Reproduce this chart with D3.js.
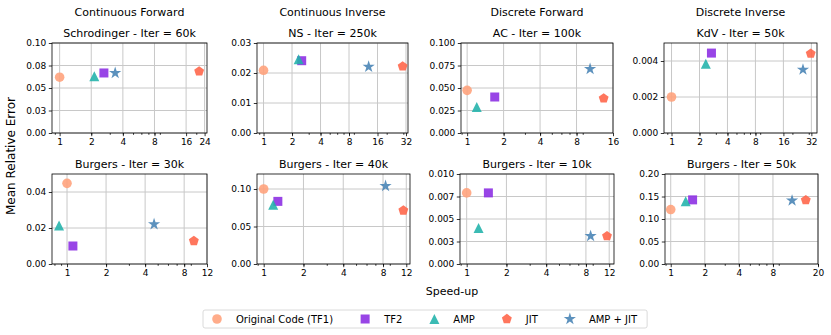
<!DOCTYPE html>
<html>
<head>
<meta charset="utf-8">
<script src="https://cdn.jsdelivr.net/npm/d3@7"></script>
<style>
  body { margin: 0; background: #fff; }
  svg { font-family: "DejaVu Sans", sans-serif; }
</style>
</head>
<body>
<div id="chart"></div>
<script>
// Methods in legend / drawing order
const methods = ["Original Code (TF1)", "TF2", "AMP", "JIT", "AMP + JIT"];
const columnTitles = ["Continuous Forward", "Continuous Inverse", "Discrete Forward", "Discrete Inverse"];
const panelTitles = [
    "Schrodinger - Iter = 60k", "NS - Iter = 250k", "AC - Iter = 100k", "KdV - Iter = 50k",
    "Burgers - Iter = 30k", "Burgers - Iter = 40k", "Burgers - Iter = 10k", "Burgers - Iter = 50k"
];

// speed-up per panel, in method order
const speedup = [
    [1, 2.64, 2.14, 21.3, 3.38],
    [1, 2.53, 2.35, 29.5, 12.9],
    [1, 1.69, 1.2, 13.4, 10.35],
    [1, 2.69, 2.34, 31.5, 26],
    [1, 1.11, 0.868, 9.5, 4.69],
    [1, 1.28, 1.18, 11.4, 8.36],
    [1, 1.46, 1.23, 11.55, 8.68],
    [1, 1.56, 1.355, 15.6, 11.8]
];
// mean relative error per panel, in method order
const errors = [
    [0.062, 0.0667, 0.063, 0.0685, 0.0667],
    [0.0209, 0.0241, 0.0246, 0.0222, 0.0221],
    [0.0474, 0.040, 0.029, 0.0385, 0.0711],
    [0.002, 0.00444, 0.00385, 0.00441, 0.00352],
    [0.0448, 0.010, 0.0214, 0.0128, 0.0221],
    [0.100, 0.0835, 0.079, 0.0714, 0.104],
    [0.0079, 0.0079, 0.0040, 0.0031, 0.0031],
    [0.121, 0.1425, 0.1396, 0.142, 0.141]
];

const xLimits = [
    [0.846, 25.3], [0.853, 33.6], [0.89, 16], [0.83, 36.8],
    [0.766, 12], [0.89, 12.8], [0.89, 13.05], [0.89, 20]
];
const yMax = [0.1, 0.03, 0.1, 0.005, 0.05, 0.12, 0.01, 0.2];

const xTicks = [
    [1, 2, 4, 8, 16, 24], [1, 2, 4, 8, 16, 32], [1, 2, 4, 8, 16], [1, 2, 4, 8, 16, 32],
    [1, 2, 4, 8, 12], [1, 2, 4, 8, 12], [1, 2, 4, 8, 12], [1, 2, 4, 8, 20]
];
const yTicks = [
    [0, 0.025, 0.05, 0.075, 0.1],
    [0, 0.01, 0.02, 0.03],
    [0, 0.025, 0.05, 0.075, 0.1],
    [0, 0.002, 0.004],
    [0, 0.02, 0.04],
    [0, 0.05, 0.1],
    [0, 0.0025, 0.005, 0.0075, 0.01],
    [0, 0.05, 0.1, 0.15, 0.2]
];
const yTickLabels = [
    ["0.00", "0.03", "0.05", "0.08", "0.10"],
    ["0.00", "0.01", "0.02", "0.03"],
    ["0.000", "0.025", "0.050", "0.075", "0.100"],
    ["0.000", "0.002", "0.004"],
    ["0.00", "0.02", "0.04"],
    ["0.00", "0.05", "0.10"],
    ["0.000", "0.003", "0.005", "0.007", "0.010"],
    ["0.00", "0.05", "0.10", "0.15", "0.20"]
];

const colors = ["#FFA07A", "#8A2BE2", "#20B2AA", "#FF6347", "#4682B4"];

const W = 831, H = 335;
// axes boxes [left, right, top, bottom]
const boxes = [
    [52, 207, 43, 133], [257, 408, 43, 133], [461, 613, 43, 133], [664, 817, 43, 133],
    [52, 207, 174, 264], [257, 410, 174, 264], [460, 614, 174, 264], [665, 818, 174, 264]
];

const svg = d3.select('#chart').append('svg')
    .attr('width', W)
    .attr('height', H);

// marker paths, all roughly matplotlib markersize 10
const pentagon = {
    draw(ctx, size) {
        const r = Math.sqrt(size);
        for (let i = 0; i < 5; i++) {
            const a = -Math.PI / 2 + i * 2 * Math.PI / 5;
            const px = r * Math.cos(a), py = r * Math.sin(a);
            if (i === 0) ctx.moveTo(px, py); else ctx.lineTo(px, py);
        }
        ctx.closePath();
    }
};
const triangle = {
    draw(ctx, size) {
        const r = Math.sqrt(size);
        ctx.moveTo(0, -r);
        ctx.lineTo(r, r);
        ctx.lineTo(-r, r);
        ctx.closePath();
    }
};
const markerPaths = [
    d3.symbol(d3.symbolCircle, Math.PI * 4.8 * 4.8)(),
    d3.symbol(d3.symbolSquare, 9 * 9)(),
    d3.symbol(triangle, 5 * 5)(),
    d3.symbol(pentagon, 5.2 * 5.2)(),
    d3.symbol(d3.symbolStar, 46)()
];

const minorTicksFor = ([lo, hi]) => {
    const out = [];
    for (let e = -1; e <= 2; e++) {
        for (let m = 2; m <= 9; m++) {
            const v = m * Math.pow(10, e);
            if (v >= lo && v <= hi) out.push(v);
        }
    }
    return out;
};

boxes.forEach(([l, r, t, b], i) => {
    const x = d3.scaleLog().base(2).domain(xLimits[i]).range([l, r]);
    const y = d3.scaleLinear().domain([0, yMax[i]]).range([b, t]);
    const g = svg.append('g');

    // grid
    g.append('g').selectAll('line.vx')
        .data(xTicks[i]).enter().append('line')
        .attr('x1', d => x(d)).attr('x2', d => x(d))
        .attr('y1', t).attr('y2', b)
        .attr('stroke', '#c8c8c8').attr('stroke-width', 1);
    g.append('g').selectAll('line.hy')
        .data(yTicks[i]).enter().append('line')
        .attr('x1', l).attr('x2', r)
        .attr('y1', d => y(d)).attr('y2', d => y(d))
        .attr('stroke', '#c8c8c8').attr('stroke-width', 1);

    // axes
    const xAxis = g.append('g')
        .attr('transform', `translate(0,${b})`)
        .call(d3.axisBottom(x).tickValues(xTicks[i]).tickFormat(d3.format('d'))
            .tickSize(3.2).tickPadding(2.5).tickSizeOuter(0));
    g.append('g')
        .attr('transform', `translate(0,${b})`)
        .call(d3.axisBottom(x).tickValues(minorTicksFor(xLimits[i])).tickFormat('')
            .tickSize(1.8).tickSizeOuter(0))
        .call(s => s.select('.domain').remove());
    const yAxis = g.append('g')
        .attr('transform', `translate(${l},0)`)
        .call(d3.axisLeft(y).tickValues(yTicks[i]).tickFormat((d, k) => yTickLabels[i][k])
            .tickSize(3.2).tickPadding(2.5).tickSizeOuter(0));
    [xAxis, yAxis].forEach(a => {
        a.select('.domain').remove();
        a.selectAll('text').attr('font-size', 9).attr('font-family', 'DejaVu Sans').attr('fill', '#000');
    });
    g.selectAll('.tick line').attr('stroke', '#000').attr('stroke-width', 0.8);

    // frame
    g.append('rect')
        .attr('x', l).attr('y', t)
        .attr('width', r - l).attr('height', b - t)
        .attr('fill', 'none').attr('stroke', '#000').attr('stroke-width', 0.8);

    // points
    g.append('g').selectAll('path')
        .data(methods.map((m, k) => ({ k, sx: speedup[i][k], err: errors[i][k] })))
        .enter().append('path')
        .attr('d', d => markerPaths[d.k])
        .attr('transform', d => `translate(${x(d.sx)},${y(d.err)})`)
        .attr('fill', d => colors[d.k])
        .attr('fill-opacity', 0.88);

    // titles
    if (i < 4) {
        svg.append('text')
            .attr('x', (l + r) / 2).attr('y', 16)
            .attr('text-anchor', 'middle').attr('font-size', 11)
            .text(columnTitles[i]);
    }
    svg.append('text')
        .attr('x', (l + r) / 2).attr('y', t - 6)
        .attr('text-anchor', 'middle').attr('font-size', 11)
        .text(panelTitles[i]);
});

// shared axis labels
svg.append('text')
    .attr('transform', 'translate(15,156) rotate(-90)')
    .attr('text-anchor', 'middle').attr('font-size', 12)
    .text('Mean Relative Error');
svg.append('text')
    .attr('x', 452).attr('y', 295)
    .attr('text-anchor', 'middle').attr('font-size', 11)
    .text('Speed-up');

// legend
const legend = svg.append('g');
const legendBox = legend.append('rect')
    .attr('y', 310).attr('height', 18).attr('rx', 2)
    .attr('fill', '#fff').attr('stroke', '#d0d0d0').attr('stroke-width', 0.8);
let cursor = 217;
methods.forEach((m, k) => {
    legend.append('path')
        .attr('d', markerPaths[k])
        .attr('transform', `translate(${cursor},319)`)
        .attr('fill', colors[k]).attr('fill-opacity', 0.88);
    const txt = legend.append('text')
        .attr('x', cursor + 19).attr('y', 322.5)
        .attr('font-size', 10)
        .text(m);
    cursor += 19 + txt.node().getComputedTextLength() + 32;
});
legendBox.attr('x', 203).attr('width', cursor - 32 + 10 - 203);
</script>
</body>
</html>
